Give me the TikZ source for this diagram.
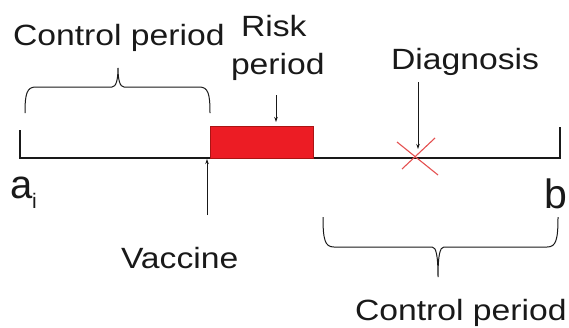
\documentclass[tikz,border=0pt]{standalone}
\usepackage{fontspec}
\setmainfont[FakeStretch=1.15]{Liberation Sans}
\newfontfamily\plainfont{Liberation Sans}
\usetikzlibrary{arrows.meta}
\definecolor{boxred}{RGB}{236,28,36}
\definecolor{boxedge}{RGB}{170,20,20}
\definecolor{xred}{RGB}{228,80,80}
\definecolor{ink}{RGB}{25,25,25}
\tikzset{
  lbl/.style={anchor=base west, inner sep=0pt, outer sep=0pt, text=ink,
    font=\fontsize{29.3}{35}\selectfont},
  endlbl/.style={anchor=base west, inner sep=0pt, outer sep=0pt, text=ink},
  axis/.style={draw=ink, line width=1.2pt},
  bracepath/.style={draw=ink, line width=1pt},
  pointer/.style={draw=ink, line width=0.9pt, -{Stealth[length=5pt,width=3.5pt]}},
  riskbox/.style={fill=boxred, draw=boxedge, line width=0.4pt, minimum width=103pt,
    minimum height=32pt, inner sep=0pt, anchor=south west},
  cross/.style={draw=xred, line width=1.1pt}
}
\begin{document}
\begin{tikzpicture}[x=1pt, y=-1pt]
\useasboundingbox (0,0) rectangle (569,327);
% timeline
\coordinate (tl) at (20,130);
\coordinate (l0) at (20,158);
\coordinate (r0) at (560,158);
\coordinate (tr) at (560,127);
\draw[axis] (tl) -- (l0) -- (r0) -- (tr);
% risk box
\node[riskbox] (box) at (210,158) {};
% labels
\node[lbl] (ctop) at (13,45) {Control period};
\node[lbl] (risk) at (241,36) {Risk};
\node[lbl] (period) at (231,74) {period};
\node[lbl] (diag) at (391,69) {Diagnosis};
\node[lbl] (vacc) at (121,268) {Vaccine};
\node[lbl] (cbot) at (355,320) {Control period};
\node[endlbl, font=\plainfont\fontsize{40}{40}\selectfont] (ai) at (10,198) {a\raisebox{-10pt}{\fontsize{21}{21}\selectfont i}};
\node[endlbl, font=\plainfont\fontsize{41}{41}\selectfont] (b) at (544,208) {b};
% arrows
\coordinate (rtail) at (276,95);
\coordinate (rtip) at (276,122);
\draw[pointer] (rtail) -- (rtip);
\coordinate (dtail) at (418,82);
\coordinate (dtip) at (418,149);
\draw[pointer] (dtail) -- (dtip);
\coordinate (vtail) at (207,215);
\coordinate (vtip) at (207,159);
\draw[pointer] (vtail) -- (vtip);
% diagnosis cross
\draw[cross] (397,142) -- (438,175);
\draw[cross] (435,138) -- (402,169);
% top brace
\draw[bracepath] (25,113) .. controls (25,93) and (27,87) .. (36,87) -- (112,87)
  .. controls (116,87) and (118,80) .. (118,68)
  .. controls (118,80) and (120,87) .. (124,87) -- (199,87)
  .. controls (208,87) and (210,93) .. (210,113);
% bottom brace
\draw[bracepath] (323,217) .. controls (323,240) and (325,247) .. (334,247) -- (432,247)
  .. controls (436,247) and (438,255) .. (438,277)
  .. controls (438,255) and (440,247) .. (444,247) -- (547,247)
  .. controls (556,247) and (558,240) .. (558,217);
\end{tikzpicture}
\end{document}
